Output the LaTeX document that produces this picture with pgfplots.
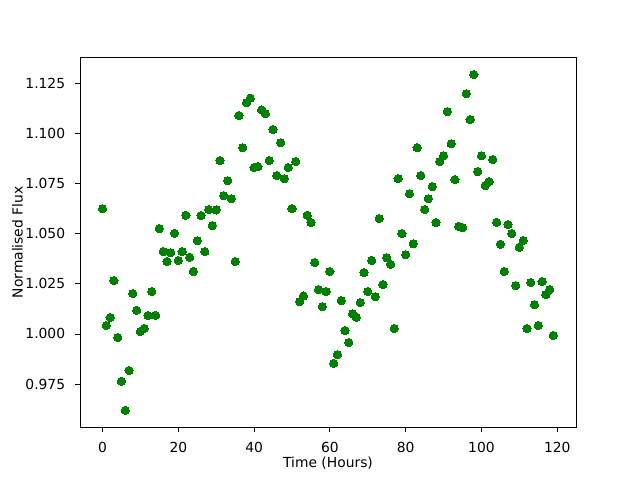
\documentclass[border=0pt]{standalone}
\usepackage{pgfplots}
\pgfplotsset{compat=1.18}
\usepackage{fontspec}
\setmainfont{DejaVu Sans}
\definecolor{mplgreen}{HTML}{008000}
\begin{document}
\fontsize{10.4}{12.5}\selectfont
\begin{tikzpicture}
\path[use as bounding box] (0,0) rectangle (480pt,360pt);
\begin{axis}[
  at={(60pt,39.6pt)}, anchor=south west,
  scale only axis, width=372pt, height=277.2pt,
  xmin=-5.95, xmax=124.95, ymin=0.9535, ymax=1.1377,
  xtick={0,20,40,60,80,100,120},
  ytick={0.975,1.000,1.025,1.050,1.075,1.100,1.125},
  yticklabels={0.975,1.000,1.025,1.050,1.075,1.100,1.125},
  xtick pos=bottom, ytick pos=left,
  tick align=outside,
  major tick length=3.65pt,
  every tick/.style={black, line width=0.6pt},
  axis line style={line width=0.6pt},
  /pgf/number format/assume math mode=true,
  xticklabel style={inner sep=0pt, anchor=north, yshift=-7.3pt},
  yticklabel style={inner sep=0pt, anchor=east, xshift=-7.3pt},
  scaled y ticks=false,
  xlabel={Time (Hours)}, ylabel={Normalised Flux},
  xlabel style={at={(axis description cs:0.5,0)}, anchor=center, yshift=-27pt, inner sep=0pt},
  ylabel style={at={(axis description cs:0,0.5)}, anchor=center, rotate=0, yshift=47pt, inner sep=0pt},
  every axis label/.append style={font=\fontsize{10.4}{12.5}\selectfont},
  tick label style={font=\fontsize{10.4}{12.5}\selectfont},
  clip=false,
]
\addplot[only marks, mark=*, mark size=3.1pt, mark options={fill=mplgreen, draw=mplgreen, line width=0pt}] coordinates {
(0,1.0624) (1,1.0042) (2,1.0082) (3,1.0266) (4,0.9982) (5,0.9763) (6,0.9619) (7,0.9818) (8,1.0201) (9,1.0117)
(10,1.0012) (11,1.0027) (12,1.0092) (13,1.0211) (14,1.0092) (15,1.0525) (16,1.0410) (17,1.0361) (18,1.0405) (19,1.0501)
(20,1.0366) (21,1.0410) (22,1.0591) (23,1.0382) (24,1.0311) (25,1.0464) (26,1.0590) (27,1.0410) (28,1.0620) (29,1.0540)
(30,1.0618) (31,1.0864) (32,1.0689) (33,1.0764) (34,1.0674) (35,1.0361) (36,1.1088) (37,1.0928) (38,1.1152) (39,1.1175)
(40,1.0829) (41,1.0834) (42,1.1116) (43,1.1098) (44,1.0864) (45,1.1019) (46,1.0789) (47,1.0953) (48,1.0774) (49,1.0829)
(50,1.0624) (51,1.0859) (52,1.0161) (53,1.0189) (54,1.0591) (55,1.0555) (56,1.0356) (57,1.0221) (58,1.0136) (59,1.0211)
(60,1.0311) (61,0.9853) (62,0.9897) (63,1.0166) (64,1.0017) (65,0.9957) (66,1.0100) (67,1.0082) (68,1.0156) (69,1.0306)
(70,1.0211) (71,1.0366) (72,1.0186) (73,1.0575) (74,1.0246) (75,1.0380) (76,1.0346) (77,1.0027) (78,1.0774) (79,1.0500)
(80,1.0395) (81,1.0699) (82,1.0449) (83,1.0928) (84,1.0789) (85,1.0620) (86,1.0674) (87,1.0734) (88,1.0555) (89,1.0859)
(90,1.0888) (91,1.1108) (92,1.0948) (93,1.0769) (94,1.0536) (95,1.0530) (96,1.1197) (97,1.1068) (98,1.1293) (99,1.0809)
(100,1.0888) (101,1.0739) (102,1.0759) (103,1.0869) (104,1.0556) (105,1.0447) (106,1.0311) (107,1.0545) (108,1.0500) (109,1.0241)
(110,1.0432) (111,1.0465) (112,1.0027) (113,1.0256) (114,1.0146) (115,1.0042) (116,1.0261) (117,1.0196) (118,1.0221) (119,0.9992)
};
\end{axis}
\end{tikzpicture}
\end{document}
